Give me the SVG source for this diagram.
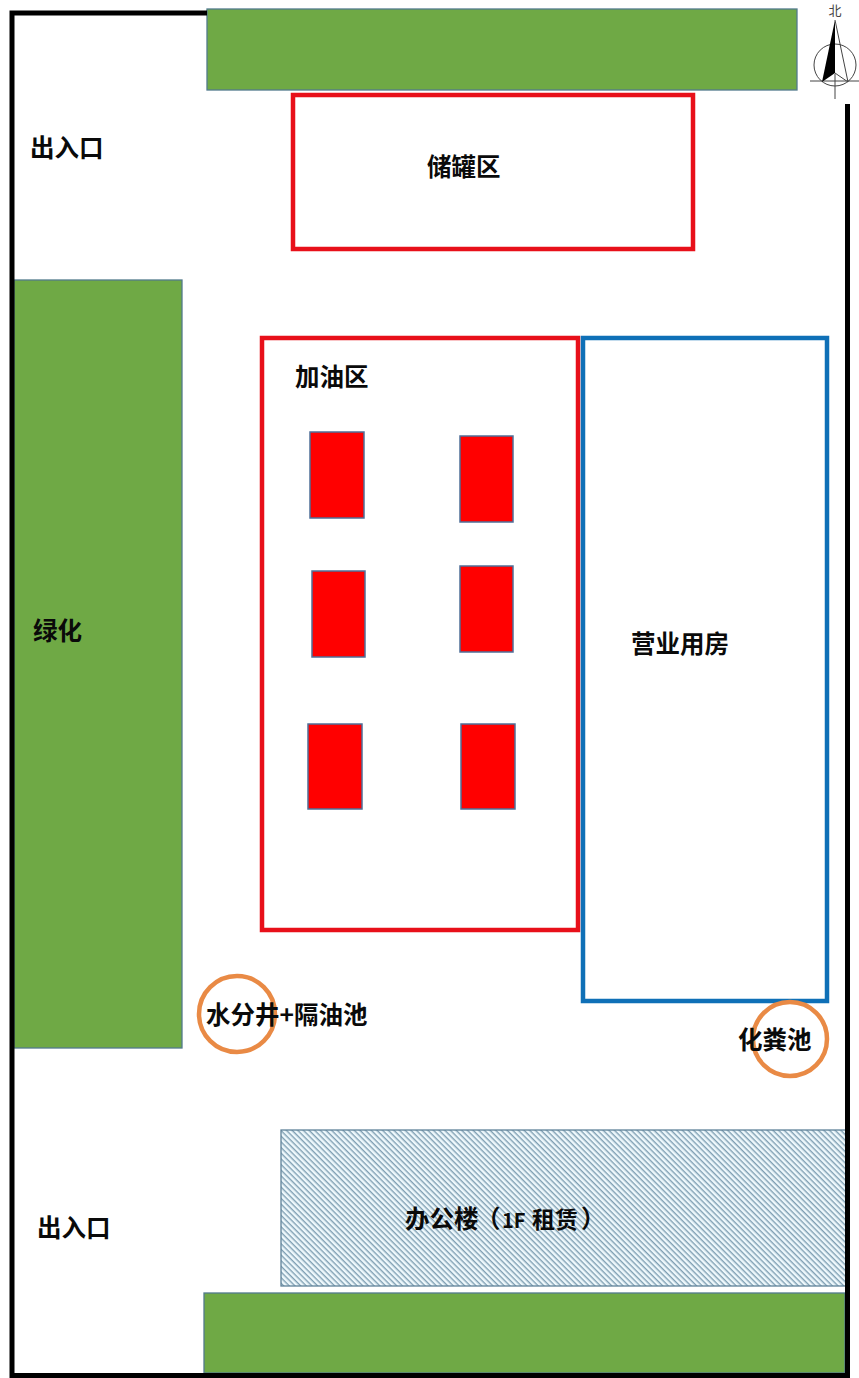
<svg xmlns="http://www.w3.org/2000/svg" width="859" height="1378" viewBox="0 0 859 1378">
<style>
.g{fill:#6fa945;stroke:#527a8c;stroke-width:1.3}
.r{fill:#ff0000;stroke:#4f6f98;stroke-width:1.5}
.ro{fill:#fff;stroke:#e8101a;stroke-width:4.5}
.t{font-family:"Noto Sans CJK SC","Liberation Sans",sans-serif;font-size:24.5px;font-weight:700;fill:#0a0a0a}
.c{fill:none;stroke:#e98a45;stroke-width:4.5}
.n{stroke:#444;stroke-width:1;fill:none}
</style>
<defs>
<pattern id="h" width="4" height="4" patternUnits="userSpaceOnUse" patternTransform="rotate(45)">
<rect width="4" height="4" fill="#eef8fc"/>
<rect width="4" height="1.4" fill="#7f9fb3"/>
</pattern>
</defs>
<rect width="859" height="1378" fill="#fff"/>
<g id="green-top"><rect class="g" x="207" y="9" width="590" height="81"/></g>
<g id="green-left"><rect class="g" x="14" y="280" width="168" height="768"/></g>
<g id="green-bottom"><rect class="g" x="204" y="1293" width="641" height="80"/></g>
<g id="office"><rect x="281" y="1130" width="565" height="156" fill="url(#h)" stroke="#5f8299" stroke-width="1.3"/><text class="t" y="1228"><tspan x="405">办公楼</tspan><tspan x="476">（</tspan><tspan x="502" style="font-size:20px">1F</tspan><tspan x="532" style="font-size:23px">租赁</tspan><tspan x="581">）</tspan></text></g>
<g id="boundary"><path d="M207 13H12V1375.5H847.5V104" fill="none" stroke="#000" stroke-width="5"/></g>
<g id="tank"><rect class="ro" x="293" y="95" width="400" height="154"/><text class="t" x="427" y="176">储罐区</text></g>
<g id="fuel"><rect class="ro" x="262" y="338" width="316" height="592"/><text class="t" x="295" y="386">加油区</text></g>
<g id="business"><rect x="583" y="338" width="244" height="663" fill="#fff" stroke="#0f70b7" stroke-width="4.5"/><text class="t" x="631" y="653">营业用房</text></g>
<g id="pumps">
<rect class="r" x="310" y="432" width="54" height="86"/>
<rect class="r" x="460" y="436" width="53" height="86"/>
<rect class="r" x="312" y="571" width="53" height="86"/>
<rect class="r" x="460" y="566" width="53" height="86"/>
<rect class="r" x="308" y="724" width="54" height="85"/>
<rect class="r" x="461" y="724" width="54" height="85"/>
</g>
<g id="separator"><circle class="c" cx="237" cy="1014" r="38"/><text class="t" x="206" y="1024">水分井+隔油池</text></g>
<g id="septic"><circle class="c" cx="790" cy="1039" r="37"/><text class="t" x="738" y="1049">化粪池</text></g>
<g id="labels">
<text class="t" x="30" y="157">出入口</text>
<text class="t" x="37" y="1237">出入口</text>
<text class="t" x="33" y="640">绿化</text>
</g>
<g id="north">
<text x="835" y="15" text-anchor="middle" style="font-family:'Noto Sans CJK SC',sans-serif;font-size:13px;fill:#444">北</text>
<circle class="n" cx="835" cy="65" r="21"/>
<path class="n" d="M810 81H859M835 74V99"/>
<path d="M835 20L822 82L835 73Z" fill="#000"/>
<path class="n" d="M835 20L848 82L835 73"/>
</g>
</svg>
